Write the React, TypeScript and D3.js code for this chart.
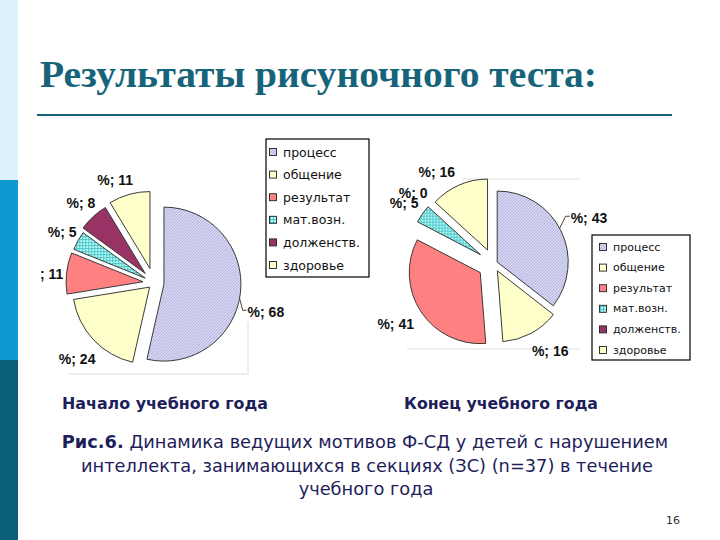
import React from "react";
import * as d3 from "d3";

// ---------- data ----------
const categories = ["процесс", "общение", "результат", "мат.возн.", "долженств.", "здоровье"];
const startValues = [68, 24, 11, 5, 8, 11];
const endValues = [43, 16, 41, 5, 0, 16];
const chartCaptions = ["Начало учебного года", "Конец учебного года"];
const titleText = "Результаты рисуночного теста:";
const figureLabel = "Рис.6.";
const figureLines = [
  " Динамика ведущих мотивов Ф-СД у детей с нарушением",
  "интеллекта, занимающихся в секциях (ЗС) (n=37) в течение",
  "учебного года",
];
const pageNumber = "16";

// ---------- styles ----------
const fills = ["url(#hatchProc)", "#ffffcc", "#ff8080", "url(#gridMat)", "#993366", "#ffffcc"];
const W = 720;
const H = 540;
const navy = "#1e1e5a";
const teal = "#17647a";

type PieCfg = {
  cx: number;
  cy: number;
  r: number;
  explode: number[];
  labelShift: number[];
  labelR: number[];
  leaderIndex: number;
  leaderDeg: number;
  leaderDx: number;
  leaderDy: number;
  clip: [number, number, number, number];
  frame: { x1: number; y1: number; x2: number; y2: number }[];
  legend: { x: number; y: number; w: number; h: number; row: number; first: number; sw: number; tx: number; fs: number };
};

const leftCfg: PieCfg = {
  cx: 154,
  cy: 283,
  r: 77,
  explode: [10, 6, 11, 10, 13, 15],
  labelShift: [0, -1.4, -1.4, 0, 0, -5.1],
  labelR: [0, 108, 109, 105, 108, 110],
  leaderIndex: 0,
  leaderDeg: 100.6,
  leaderDx: 4,
  leaderDy: 12,
  clip: [40, 130, 338, 260],
  frame: [
    { x1: 68, y1: 374, x2: 248, y2: 374 },
    { x1: 248, y1: 322, x2: 248, y2: 374 },
  ],
  legend: { x: 266, y: 139, w: 103, h: 138, row: 22.6, first: 152, sw: 7, tx: 283, fs: 12.5 },
};

const rightCfg: PieCfg = {
  cx: 493.6,
  cy: 263.8,
  r: 71,
  explode: [4, 8, 16, 16, 16, 15],
  labelShift: [0, -4.7, 1.8, -0.8, -1.1, -7.9],
  labelR: [0, 104, 115, 108, 107, 108],
  leaderIndex: 0,
  leaderDeg: 61.6,
  leaderDx: 7,
  leaderDy: -12,
  clip: [372, 130, 338, 240],
  frame: [
    { x1: 462, y1: 179, x2: 580, y2: 179 },
    { x1: 407, y1: 349, x2: 580, y2: 349 },
  ],
  legend: { x: 592, y: 235, w: 98, h: 125, row: 20.6, first: 247, sw: 7, tx: 613, fs: 11 },
};

const rad = (deg: number) => (deg * Math.PI) / 180;
const labelFont = "'Liberation Sans', Arial, sans-serif";

function PieChart({ values, cfg, id }: { values: number[]; cfg: PieCfg; id: string }) {
  const arcs = d3.pie<number>().sort(null).value((d) => d)(values);
  const arcGen = d3.arc<d3.PieArcDatum<number>>().innerRadius(0).outerRadius(cfg.r);
  const [clx, cly, clw, clh] = cfg.clip;

  const slices = arcs.map((a, i) => {
    const mid = (a.startAngle + a.endAngle) / 2;
    const ox = cfg.cx + cfg.explode[i] * Math.sin(mid);
    const oy = cfg.cy - cfg.explode[i] * Math.cos(mid);
    return { a, i, mid, ox, oy };
  });

  const lg = cfg.legend;

  return (
    <g>
      <defs>
        <clipPath id={id + "-clip"}>
          <rect x={clx} y={cly} width={clw} height={clh} />
        </clipPath>
      </defs>
      <g clipPath={`url(#${id}-clip)`}>
        {cfg.frame.map((f, k) => (
          <line key={k} x1={f.x1} y1={f.y1} x2={f.x2} y2={f.y2} stroke="#dedede" strokeWidth={1} />
        ))}
        {slices.map(({ a, i, ox, oy }) =>
          a.value > 0 ? (
            <path
              key={"s" + i}
              d={arcGen(a) || ""}
              transform={`translate(${ox},${oy})`}
              fill={fills[i]}
              stroke="#3a3a3a"
              strokeWidth={1}
              strokeLinejoin="round"
            />
          ) : null
        )}
        {slices.map(({ a, i, mid, ox, oy }) => {
          const txt = `%; ${a.value}`;
          if (i === cfg.leaderIndex) {
            const ang = rad(cfg.leaderDeg);
            const sx = ox + cfg.r * Math.sin(ang);
            const sy = oy - cfg.r * Math.cos(ang);
            const ex = sx + cfg.leaderDx;
            const ey = sy + cfg.leaderDy;
            return (
              <g key={"l" + i}>
                <path d={`M${sx},${sy} L${ex - 1},${ey} L${ex + 3},${ey}`} fill="none" stroke="#444" strokeWidth={1} />
                <text
                  x={ex + 4}
                  y={ey + 2}
                  fontFamily={labelFont}
                  fontWeight="bold"
                  fontSize={14}
                  fill="#111"
                  dominantBaseline="central"
                >
                  {txt}
                </text>
              </g>
            );
          }
          const la = mid + rad(cfg.labelShift[i]);
          const lx = cfg.cx + cfg.labelR[i] * Math.sin(la);
          const ly = cfg.cy - cfg.labelR[i] * Math.cos(la);
          return (
            <text
              key={"l" + i}
              x={lx}
              y={ly}
              textAnchor="middle"
              dominantBaseline="central"
              fontFamily={labelFont}
              fontWeight="bold"
              fontSize={14}
              fill="#111"
            >
              {txt}
            </text>
          );
        })}
      </g>
      <g>
        <rect x={lg.x} y={lg.y} width={lg.w} height={lg.h} fill="#fff" stroke="#000" strokeWidth={1.2} />
        {categories.map((c, i) => {
          const y = lg.first + i * lg.row;
          return (
            <g key={"g" + i}>
              <rect
                x={lg.tx - 10 - lg.sw / 2}
                y={y - lg.sw / 2}
                width={lg.sw}
                height={lg.sw}
                fill={fills[i]}
                stroke="#222"
                strokeWidth={0.9}
              />
              <text
                x={lg.tx}
                y={y}
                dominantBaseline="central"
                fontFamily="'DejaVu Sans', Verdana, sans-serif"
                fontSize={lg.fs}
                fill="#111"
              >
                {c}
              </text>
            </g>
          );
        })}
      </g>
    </g>
  );
}

export default function App() {
  return (
    <svg
      width={W}
      height={H}
      viewBox={`0 0 ${W} ${H}`}
      style={{ position: "absolute", left: 0, top: 0, background: "#fff", display: "block" }}
    >
      <defs>
        <pattern id="hatchProc" patternUnits="userSpaceOnUse" width={3} height={3}>
          <rect width={3} height={3} fill="#d8d8f6" />
          <path d="M-1,1 L1,-1 M0,3 L3,0 M2,4 L4,2" stroke="#a3a3d0" strokeWidth={0.8} />
        </pattern>
        <pattern id="gridMat" patternUnits="userSpaceOnUse" width={3} height={3}>
          <rect width={3} height={3} fill="#b4fbfb" />
          <path d="M0,0.5 H3 M0.5,0 V3" stroke="#3cbaba" strokeWidth={0.8} />
        </pattern>
      </defs>
      <rect x={0} y={0} width={W} height={H} fill="#fff" />
      {/* left stripe */}
      <rect x={0} y={0} width={18} height={180} fill="#dcf2fa" />
      <rect x={0} y={180} width={18} height={180} fill="#0c9ad0" />
      <rect x={0} y={360} width={18} height={180} fill="#0b5f78" />

      {/* title */}
      <text
        x={40}
        y={87}
        fontFamily="'Liberation Serif', 'Times New Roman', serif"
        fontWeight="bold"
        fontSize={38}
        fill={teal}
        textLength={557}
        lengthAdjust="spacingAndGlyphs"
      >
        {titleText}
      </text>
      <line x1={37} y1={115} x2={672} y2={115} stroke={teal} strokeWidth={2} />

      <PieChart values={startValues} cfg={leftCfg} id="left" />
      <PieChart values={endValues} cfg={rightCfg} id="right" />

      {/* chart captions */}
      <text
        x={62}
        y={409}
        fontFamily="'DejaVu Sans', Verdana, sans-serif"
        fontWeight="bold"
        fontSize={15}
        fill={navy}
        textLength={206}
        lengthAdjust="spacingAndGlyphs"
      >
        {chartCaptions[0]}
      </text>
      <text
        x={404}
        y={409}
        fontFamily="'DejaVu Sans', Verdana, sans-serif"
        fontWeight="bold"
        fontSize={15}
        fill={navy}
        textLength={194}
        lengthAdjust="spacingAndGlyphs"
      >
        {chartCaptions[1]}
      </text>

      {/* figure caption */}
      <text
        x={365}
        y={448}
        textAnchor="middle"
        fontFamily="'DejaVu Sans', Verdana, sans-serif"
        fontSize={17.8}
        fill={navy}
      >
        <tspan fontWeight="bold">{figureLabel}</tspan>
        <tspan>{figureLines[0]}</tspan>
      </text>
      <text
        x={367}
        y={472}
        textAnchor="middle"
        fontFamily="'DejaVu Sans', Verdana, sans-serif"
        fontSize={17.8}
        fill={navy}
      >
        {figureLines[1]}
      </text>
      <text
        x={366}
        y={495}
        textAnchor="middle"
        fontFamily="'DejaVu Sans', Verdana, sans-serif"
        fontSize={17.8}
        fill={navy}
      >
        {figureLines[2]}
      </text>
      <text
        x={673}
        y={524}
        textAnchor="middle"
        fontFamily="'DejaVu Sans', Verdana, sans-serif"
        fontSize={11}
        fill="#333"
      >
        {pageNumber}
      </text>
    </svg>
  );
}
